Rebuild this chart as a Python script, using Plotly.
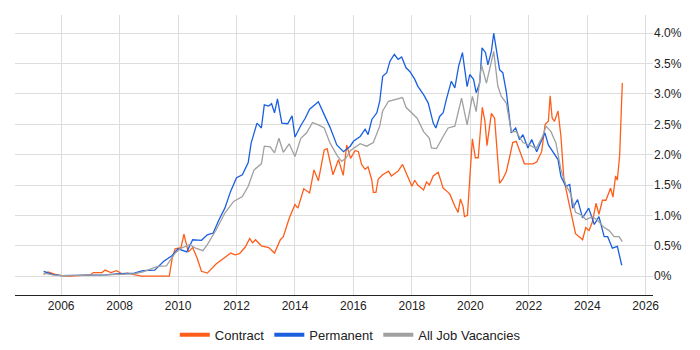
import plotly.graph_objects as go

# Permanent
perm_x = [2005.4, 2005.7, 2006.0, 2006.5, 2007.0, 2007.5, 2008.0, 2008.5, 2008.8, 2009.2, 2009.5, 2009.8,
          2010.0, 2010.3, 2010.5, 2010.8, 2011.0, 2011.2, 2011.4, 2011.6, 2011.8, 2012.0, 2012.2, 2012.4,
          2012.5, 2012.7, 2012.85, 2012.95, 2013.1, 2013.2, 2013.3, 2013.4, 2013.55, 2013.75, 2013.9, 2014.0,
          2014.2, 2014.35, 2014.5, 2014.7, 2014.8, 2015.0, 2015.2, 2015.43, 2015.66, 2015.89, 2016.0, 2016.23,
          2016.4, 2016.5, 2016.63, 2016.8, 2016.9, 2017.0, 2017.14, 2017.25, 2017.4, 2017.53, 2017.65, 2017.8,
          2017.93, 2018.1, 2018.2, 2018.4, 2018.56, 2018.73, 2018.82, 2018.95, 2019.07, 2019.18, 2019.35,
          2019.47, 2019.6, 2019.73, 2019.89, 2019.98, 2020.11, 2020.2, 2020.32, 2020.4, 2020.52, 2020.6,
          2020.72, 2020.8, 2020.89, 2021.0, 2021.11, 2021.23, 2021.4, 2021.55, 2021.68, 2021.8, 2021.97,
          2022.1, 2022.27, 2022.44, 2022.55, 2022.67, 2022.84, 2023.0, 2023.1, 2023.27, 2023.4, 2023.5,
          2023.67, 2023.84, 2024.05, 2024.24, 2024.4, 2024.58, 2024.7, 2024.86, 2025.03, 2025.18]
perm_y = [0.08, 0.03, 0.01, 0.01, 0.02, 0.02, 0.04, 0.05, 0.09, 0.10, 0.24, 0.34,
          0.45, 0.40, 0.60, 0.59, 0.68, 0.71, 0.93, 1.12, 1.40, 1.62, 1.67, 1.87,
          2.19, 2.52, 2.44, 2.82, 2.80, 2.84, 2.69, 2.92, 2.52, 2.51, 2.64, 2.29,
          2.48, 2.60, 2.75, 2.82, 2.87, 2.66, 2.45, 2.16, 2.05, 2.14, 2.22, 2.30,
          2.42, 2.33, 2.58, 2.69, 2.88, 3.29, 3.35, 3.54, 3.65, 3.57, 3.61, 3.43,
          3.37, 3.24, 3.13, 2.99, 2.85, 2.52, 2.44, 2.63, 2.69, 2.91, 3.21,
          3.10, 3.46, 3.68, 3.12, 3.32, 3.24, 3.02, 3.18, 3.76, 3.68, 3.48,
          3.70, 4.00, 3.73, 3.40, 3.35, 3.04, 2.36, 2.44, 2.25, 2.33, 2.11,
          2.25, 2.05, 2.25, 2.36, 2.16, 2.03, 1.92, 1.64, 1.48, 1.51, 1.12,
          1.26, 0.96, 1.12, 0.85, 0.98, 0.65, 0.65, 0.46, 0.49, 0.18]

# All Job Vacancies
all_x = [2005.4, 2005.7, 2006.0, 2006.5, 2007.0, 2007.5, 2008.0, 2008.5, 2008.8, 2009.3, 2009.6, 2009.9,
         2010.1, 2010.4, 2010.6, 2010.85, 2011.0, 2011.3, 2011.6, 2011.9, 2012.2, 2012.4, 2012.6, 2012.85,
         2012.95, 2013.15, 2013.3, 2013.45, 2013.6, 2013.8, 2014.0, 2014.2, 2014.4, 2014.6, 2014.8, 2015.0,
         2015.2, 2015.45, 2015.6, 2015.75, 2015.9, 2016.23, 2016.45, 2016.68, 2016.9, 2017.0, 2017.2, 2017.36,
         2017.53, 2017.68, 2017.8, 2018.0, 2018.18, 2018.4, 2018.6, 2018.67, 2018.84, 2019.07, 2019.24,
         2019.47, 2019.7, 2019.89, 2020.07, 2020.2, 2020.38, 2020.55, 2020.66, 2020.8, 2020.94, 2021.06,
         2021.23, 2021.4, 2021.57, 2021.8, 2022.02, 2022.25, 2022.47, 2022.59, 2022.76, 2022.93, 2023.1,
         2023.27, 2023.44, 2023.6, 2023.83, 2023.95, 2024.18, 2024.35, 2024.58, 2024.75, 2024.92, 2025.09, 2025.2]
all_y = [0.05, 0.02, 0.01, 0.01, 0.02, 0.02, 0.03, 0.04, 0.07, 0.16, 0.17, 0.38,
         0.46, 0.52, 0.46, 0.42, 0.52, 0.76, 1.04, 1.23, 1.31, 1.48, 1.75, 1.85,
         2.14, 2.13, 2.03, 2.27, 2.04, 2.18, 1.97, 2.27, 2.36, 2.53, 2.49, 2.44,
         2.19, 1.98, 1.89, 1.95, 2.07, 2.18, 2.14, 2.20, 2.47, 2.72, 2.88, 2.90,
         2.93, 2.94, 2.78, 2.69, 2.60, 2.38, 2.27, 2.11, 2.10, 2.30, 2.44,
         2.47, 2.93, 2.49, 2.96, 2.71, 3.48, 3.18, 3.40, 3.70, 3.13, 2.96,
         2.85, 2.38, 2.38, 2.20, 2.16, 2.10, 2.30, 2.47, 2.38, 2.19, 1.75,
         1.50, 1.35, 1.05, 1.00, 0.93, 0.98, 0.92, 0.80, 0.75, 0.65, 0.65, 0.57]

# Contract
con_x = [2005.4, 2005.55, 2005.8, 2006.0, 2006.3, 2007.0, 2007.1, 2007.4, 2007.5, 2007.7, 2007.9, 2008.1,
         2008.25, 2008.5, 2008.75, 2009.7, 2009.8, 2009.9, 2010.1, 2010.2, 2010.35, 2010.5, 2010.65, 2010.8,
         2011.0, 2011.3, 2011.6, 2011.8, 2011.95, 2012.1, 2012.3, 2012.45, 2012.55, 2012.65, 2012.85, 2013.1,
         2013.3, 2013.5, 2013.6, 2013.8, 2014.0, 2014.1, 2014.3, 2014.5, 2014.65, 2014.8, 2015.0, 2015.1,
         2015.3, 2015.49, 2015.65, 2015.77, 2015.9, 2016.06, 2016.17, 2016.28, 2016.4, 2016.5, 2016.63,
         2016.68, 2016.77, 2016.85, 2017.0, 2017.2, 2017.3, 2017.42, 2017.53, 2017.68, 2017.82, 2018.0,
         2018.1, 2018.2, 2018.4, 2018.5, 2018.6, 2018.73, 2018.9, 2019.07, 2019.24, 2019.3, 2019.47, 2019.58,
         2019.66, 2019.75, 2019.8, 2019.9, 2019.98, 2020.07, 2020.17, 2020.27, 2020.41, 2020.5, 2020.57,
         2020.72, 2020.83, 2020.89, 2021.0, 2021.11, 2021.23, 2021.34, 2021.45, 2021.57, 2021.74, 2021.85,
         2022.0, 2022.14, 2022.27, 2022.44, 2022.56, 2022.67, 2022.73, 2022.8, 2022.88, 2023.0, 2023.1, 2023.2,
         2023.33, 2023.5, 2023.6, 2023.84, 2023.95, 2024.06, 2024.18, 2024.3, 2024.4, 2024.52, 2024.64,
         2024.8, 2024.88, 2024.97, 2025.03, 2025.11, 2025.2]
con_y = [0.03, 0.07, 0.03, 0.01, 0.00, 0.02, 0.06, 0.06, 0.10, 0.06, 0.09, 0.03,
         0.05, 0.02, 0.00, 0.00, 0.30, 0.45, 0.47, 0.69, 0.40, 0.47, 0.30, 0.08,
         0.05, 0.20, 0.30, 0.38, 0.35, 0.37, 0.48, 0.62, 0.55, 0.60, 0.50, 0.47,
         0.38, 0.60, 0.65, 0.95, 1.18, 1.12, 1.44, 1.37, 1.75, 1.57, 2.08, 2.10,
         1.67, 1.92, 1.66, 2.16, 1.94, 2.07, 2.05, 1.84, 1.76, 1.80, 1.58,
         1.38, 1.38, 1.60, 1.67, 1.73, 1.65, 1.70, 1.73, 1.84, 1.68, 1.48,
         1.58, 1.50, 1.42, 1.55, 1.50, 1.65, 1.71, 1.45, 1.38, 1.35, 1.15, 1.05,
         1.27, 1.15, 0.98, 1.00, 1.60, 2.26, 1.95, 1.95, 2.78, 2.55, 2.15,
         2.68, 2.60, 2.20, 1.53, 1.60, 1.72, 1.95, 2.20, 2.22, 2.00, 1.85,
         1.85, 1.85, 1.88, 2.05, 2.50, 2.55, 2.97, 2.60, 2.55, 2.72, 2.30, 1.60,
         1.30, 0.90, 0.70, 0.60, 0.80, 0.75, 0.90, 1.20, 1.02, 1.25, 1.25,
         1.45, 1.30, 1.65, 1.58, 2.00, 3.18]

series_names = ["Contract", "Permanent", "All Job Vacancies"]
series_colors = ["#FF5E1A", "#1A5FE0", "#A0A0A0"]

y_ticks = [0, 0.5, 1.0, 1.5, 2.0, 2.5, 3.0, 3.5, 4.0]
y_labels = ["0%", "0.5%", "1.0%", "1.5%", "2.0%", "2.5%", "3.0%", "3.5%", "4.0%"]
x_ticks = [2006, 2008, 2010, 2012, 2014, 2016, 2018, 2020, 2022, 2024, 2026]
x_labels = [str(t) for t in x_ticks]

fig = go.Figure()
for (xs, ys), name, color in zip([(con_x, con_y), (perm_x, perm_y), (all_x, all_y)],
                                 series_names, series_colors):
    fig.add_trace(go.Scatter(x=xs, y=ys, mode="lines", name=name, legendgroup=name,
                             showlegend=False, line=dict(color=color, width=1.3)))
# legend entries with thick swatches
for name, color in zip(series_names, series_colors):
    fig.add_trace(go.Scatter(x=[None], y=[None], mode="lines", name=name, legendgroup=name,
                             showlegend=True, line=dict(color=color, width=4)))

# page body adds an 8px offset; margins compensate for it
fig.update_layout(
    width=700, height=350,
    margin=dict(l=7, r=55, t=7, b=63, autoexpand=False),
    paper_bgcolor="white", plot_bgcolor="white",
    font=dict(family="Liberation Sans, Arial, sans-serif", size=12, color="#222"),
    showlegend=True,
    legend=dict(orientation="h", x=0.489, xanchor="center", xref="container",
                y=0.066, yanchor="middle", yref="container",
                font=dict(size=13, color="#222"), itemwidth=30, tracegroupgap=0),
    xaxis=dict(range=[2004.42, 2026.25], tickvals=x_ticks, ticktext=x_labels,
               showgrid=True, gridcolor="#dddddd", gridwidth=1,
               showline=True, linecolor="#222", linewidth=1, zeroline=False,
               ticks="", tickfont=dict(size=12, color="#222")),
    yaxis=dict(range=[-0.31, 4.3], tickvals=y_ticks, ticktext=y_labels, side="right",
               showgrid=True, gridcolor="#dddddd", gridwidth=1, zeroline=False,
               showline=False, ticks="", tickfont=dict(size=12, color="#222")),
)

fig.write_html("out.html")
